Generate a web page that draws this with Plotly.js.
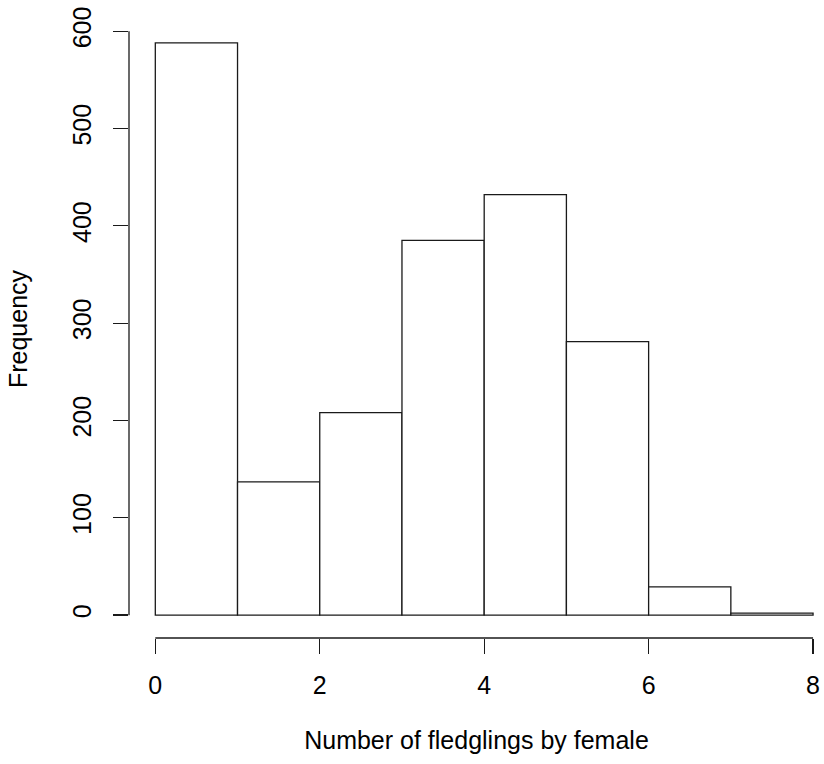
<!DOCTYPE html>
<html>
<head>
<meta charset="utf-8">
<script src="https://cdn.plot.ly/plotly-3.0.1.min.js"></script>
<style>
html,body{margin:0;padding:0;background:#fff;}
#chart{width:824px;height:764px;}
</style>
</head>
<body>
<div id="chart"></div>
<script>
// Histogram data: bin edges and counts
const binStarts = [0, 1, 2, 3, 4, 5, 6, 7];
const binEnds = [1, 2, 3, 4, 5, 6, 7, 8];
const counts = [588, 137, 208, 385, 432, 281, 29, 2];
const xTickVals = [0, 2, 4, 6, 8];
const yTickVals = [0, 100, 200, 300, 400, 500, 600];

const centers = binStarts.map((s, i) => (s + binEnds[i]) / 2);
const widths = binStarts.map((s, i) => binEnds[i] - s);

const font = {family: 'Liberation Sans, Arial, sans-serif', size: 25, color: '#000'};
const lineCol = '#1a1a1a';

const trace = {
  type: 'bar',
  x: centers,
  y: counts,
  width: widths,
  marker: {color: '#ffffff', line: {color: lineCol, width: 1.3}},
  hoverinfo: 'x+y'
};

const layout = {
  width: 824,
  height: 764,
  margin: {l: 129, r: 0, t: 20, b: 126, pad: 0},
  paper_bgcolor: '#fff',
  plot_bgcolor: '#fff',
  showlegend: false,
  font: font,
  bargap: 0,
  xaxis: {
    range: [-0.32, 8.133],
    tickvals: xTickVals,
    ticktext: xTickVals.map(String),
    ticks: 'outside',
    ticklen: 15,
    tickwidth: 1.3,
    tickcolor: lineCol,
    ticklabelstandoff: 10,
    showline: false,
    showgrid: false,
    zeroline: false,
    tickfont: font,
    title: {text: 'Number of fledglings by female', font: font, standoff: 33},
    automargin: false
  },
  yaxis: {
    range: [-23.5, 611.5],
    tickvals: yTickVals,
    ticktext: yTickVals.map(String),
    tickangle: -90,
    ticks: 'outside',
    ticklen: 15,
    tickwidth: 1.3,
    tickcolor: lineCol,
    ticklabelstandoff: 12,
    showline: false,
    showgrid: false,
    zeroline: false,
    tickfont: font,
    title: {text: 'Frequency', font: font, standoff: 33},
    automargin: false
  },
  shapes: [
    {type: 'line', xref: 'x', yref: 'paper', x0: xTickVals[0], x1: xTickVals[xTickVals.length - 1], y0: 0, y1: 0,
     line: {color: lineCol, width: 1.3}},
    {type: 'line', xref: 'paper', yref: 'y', x0: 0, x1: 0, y0: yTickVals[0], y1: yTickVals[yTickVals.length - 1],
     line: {color: lineCol, width: 1.3}}
  ]
};

Plotly.newPlot('chart', [trace], layout, {displayModeBar: false, staticPlot: true});
</script>
</body>
</html>
